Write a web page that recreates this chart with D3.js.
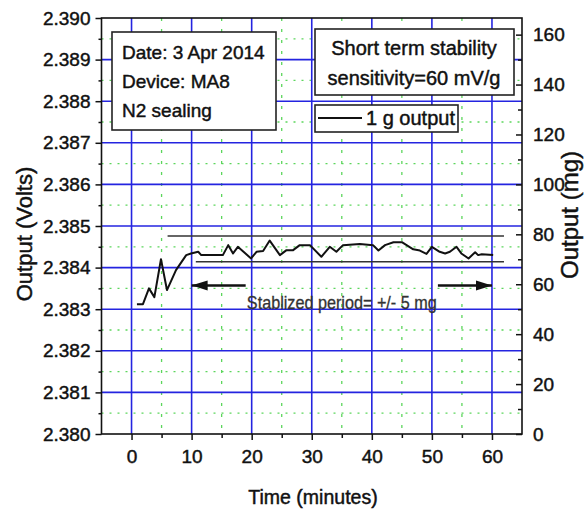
<!DOCTYPE html>
<html>
<head>
<meta charset="utf-8">
<script src="https://cdn.jsdelivr.net/npm/d3@7"></script>
<style>
  html, body { margin: 0; padding: 0; background: #fff; }
  svg { display: block; font-family: "Liberation Sans", Arial, sans-serif; }
  svg text { stroke: #111; stroke-width: 0.45px; }
</style>
</head>
<body>
<svg id="chart" width="587" height="512"></svg>
<script>
// Time (minutes) and sensor output (volts) for the 1 g stability run
const timeMin = [0.9, 1.9, 2.9, 3.8, 4.9, 5.9, 7.4, 9.1, 9.9, 11.1, 11.6, 15.2, 16.1, 16.9, 17.7,
  19.9, 20.8, 21.9, 23.0, 24.7, 25.8, 26.9, 28.0, 29.7, 31.6, 33.0, 34.1, 35.2, 38.0, 40.2,
  41.1, 42.2, 43.6, 45.0, 46.9, 48.0, 49.1, 50.0, 51.3, 52.2, 53.0, 54.1, 54.9, 56.1, 57.2,
  57.7, 58.3, 60.2];
const outputVolts = [2.38312, 2.38312, 2.38350, 2.38329, 2.38420, 2.38346, 2.38394, 2.38430,
  2.38434, 2.38438, 2.38430, 2.38430, 2.38454, 2.38434, 2.38450, 2.38422, 2.38438, 2.38440,
  2.38465, 2.38430, 2.38442, 2.38442, 2.38454, 2.38454, 2.38426, 2.38450, 2.38438, 2.38454,
  2.38457, 2.38454, 2.38441, 2.38454, 2.38461, 2.38461, 2.38444, 2.38441, 2.38433, 2.38450,
  2.38438, 2.38434, 2.38438, 2.38450, 2.38434, 2.38422, 2.38437, 2.38430, 2.38432, 2.38430];

// Stabilized band (+/- 5 mg) and its time extent
const bandUpper = { volts: 2.38476, from: 6, to: 62 };
const bandLower = { volts: 2.38414, from: 10.7, to: 62 };

// Axis ticks
const xTicks = [0, 10, 20, 30, 40, 50, 60];
const xMinorTicks = [5, 15, 25, 35, 45, 55];
const yTicks = [2.380, 2.381, 2.382, 2.383, 2.384, 2.385, 2.386, 2.387, 2.388, 2.389, 2.390];
const yMinorTicks = [2.3805, 2.3815, 2.3825, 2.3835, 2.3845, 2.3855, 2.3865, 2.3875, 2.3885, 2.3895];
const mgTicks = [0, 20, 40, 60, 80, 100, 120, 140, 160];
const mgMinorTicks = [10, 30, 50, 70, 90, 110, 130, 150];

// Annotation texts
const infoLines = ["Date: 3 Apr 2014", "Device: MA8", "N2 sealing"];
const titleLines = ["Short term stability", "sensitivity=60 mV/g"];
const legendLabel = "1 g output";
const bandLabel = "Stablized period= +/- 5 mg";

const sensitivity = 0.060; // V per g
const svg = d3.select("#chart");
const plot = { left: 101.5, right: 522, top: 18, bottom: 434 };

const x = d3.scaleLinear().domain([-5, 65]).range([plot.left, plot.right]);
const y = d3.scaleLinear().domain([2.380, 2.390]).range([plot.bottom, plot.top]);
const mgMax = (2.390 - 2.380) / sensitivity * 1000;
const yMg = d3.scaleLinear().domain([0, mgMax]).range([plot.bottom, plot.top]);

// Minor grid (green dotted)
const grid = svg.append("g");
grid.selectAll(".hmin").data(yMinorTicks).join("line")
  .attr("x1", plot.left).attr("x2", plot.right)
  .attr("y1", d => y(d)).attr("y2", d => y(d))
  .attr("stroke", "#5cd65c").attr("stroke-width", 1.3).attr("stroke-dasharray", "2,6");
grid.selectAll(".vmin").data(xMinorTicks).join("line")
  .attr("x1", d => x(d)).attr("x2", d => x(d))
  .attr("y1", plot.top).attr("y2", plot.bottom)
  .attr("stroke", "#5cd65c").attr("stroke-width", 1.3).attr("stroke-dasharray", "3,8");

// Major grid (blue)
grid.selectAll(".hmaj").data(yTicks.slice(1, -1)).join("line")
  .attr("x1", plot.left).attr("x2", plot.right)
  .attr("y1", d => y(d)).attr("y2", d => y(d))
  .attr("stroke", "#2424e0").attr("stroke-width", 1.6);
grid.selectAll(".vmaj").data(xTicks).join("line")
  .attr("x1", d => x(d)).attr("x2", d => x(d))
  .attr("y1", plot.top).attr("y2", plot.bottom)
  .attr("stroke", "#2424e0").attr("stroke-width", 1.6);

// Frame
svg.append("rect")
  .attr("x", plot.left).attr("y", plot.top)
  .attr("width", plot.right - plot.left).attr("height", plot.bottom - plot.top)
  .attr("fill", "none").attr("stroke", "#111").attr("stroke-width", 1.6);

// Axes
const axisStyle = g => {
  g.select(".domain").remove();
  g.selectAll("line").attr("stroke", "#111").attr("stroke-width", 1.5);
  g.selectAll("text").attr("font-family", "Liberation Sans, Arial, sans-serif")
    .attr("font-size", 19).attr("fill", "#111");
};
svg.append("g").attr("transform", `translate(${plot.left},0)`)
  .call(d3.axisLeft(y).tickValues(yTicks).tickFormat(d3.format(".3f")).tickSize(6).tickPadding(5))
  .call(axisStyle);
svg.append("g").attr("transform", `translate(${plot.left},0)`)
  .call(d3.axisLeft(y).tickValues(yMinorTicks).tickFormat("").tickSize(3))
  .call(axisStyle);
svg.append("g").attr("transform", `translate(0,${plot.bottom})`)
  .call(d3.axisBottom(x).tickValues(xTicks).tickFormat(d3.format("d")).tickSize(6).tickPadding(10))
  .call(axisStyle);
svg.append("g").attr("transform", `translate(0,${plot.bottom})`)
  .call(d3.axisBottom(x).tickValues(xMinorTicks).tickFormat("").tickSize(4))
  .call(axisStyle);
svg.append("g").attr("transform", `translate(${plot.right},0)`)
  .call(d3.axisRight(yMg).tickValues(mgTicks).tickFormat(d3.format("d")).tickSize(-6).tickPadding(11))
  .call(axisStyle);
svg.append("g").attr("transform", `translate(${plot.right},0)`)
  .call(d3.axisRight(yMg).tickValues(mgMinorTicks).tickFormat("").tickSize(-4))
  .call(axisStyle);

// Axis titles
svg.append("text").attr("transform", "translate(32,234) rotate(-90)")
  .attr("text-anchor", "middle").attr("font-size", 22).attr("fill", "#111")
  .text("Output (Volts)");
svg.append("text").attr("transform", "translate(578,215) rotate(-90)")
  .attr("text-anchor", "middle").attr("font-size", 24).attr("fill", "#111")
  .text("Output (mg)");
svg.append("text").attr("x", 313).attr("y", 504)
  .attr("text-anchor", "middle").attr("font-size", 19.5).attr("fill", "#111")
  .text("Time (minutes)");

// Stabilized band limits
const bandG = svg.append("g").attr("stroke", "#333").attr("stroke-width", 1.5);
[bandUpper, bandLower].forEach(b => {
  bandG.append("line")
    .attr("x1", x(b.from)).attr("x2", x(b.to))
    .attr("y1", y(b.volts)).attr("y2", y(b.volts));
});

// Output trace
const points = timeMin.map((t, i) => [t, outputVolts[i]]);
svg.append("path").datum(points)
  .attr("fill", "none").attr("stroke", "#111").attr("stroke-width", 2)
  .attr("stroke-linejoin", "round")
  .attr("d", d3.line().x(d => x(d[0])).y(d => y(d[1])));

// Arrows marking the stabilized period
const defs = svg.append("defs");
defs.append("marker").attr("id", "head")
  .attr("markerUnits", "userSpaceOnUse")
  .attr("viewBox", "0 -6 16 12").attr("refX", 16).attr("refY", 0)
  .attr("markerWidth", 16).attr("markerHeight", 12).attr("orient", "auto")
  .append("path").attr("d", "M0,-5L16,0L0,5Z").attr("fill", "#111");
const arrowY = 2.38357;
[[19, 10], [51, 60]].forEach(([from, to]) => {
  svg.append("line")
    .attr("x1", x(from)).attr("x2", x(to))
    .attr("y1", y(arrowY)).attr("y2", y(arrowY))
    .attr("stroke", "#111").attr("stroke-width", 2.5)
    .attr("marker-end", "url(#head)");
});
svg.append("text")
  .attr("transform", `translate(${x(19.2)},${y(2.38300)}) scale(0.9,1)`)
  .attr("font-size", 18).attr("fill", "#333").style("stroke", "#333").style("stroke-width", "0.3px")
  .text(bandLabel);

// Info box
svg.append("rect").attr("x", 112).attr("y", 32).attr("width", 164).attr("height", 98)
  .attr("fill", "#fff").attr("stroke", "#222").attr("stroke-width", 1.6);
svg.append("g").selectAll("text").data(infoLines).join("text")
  .attr("x", 122).attr("y", (d, i) => 59 + i * 29)
  .attr("font-size", 19).attr("fill", "#111")
  .text(d => d);

// Title box
svg.append("rect").attr("x", 315).attr("y", 29).attr("width", 199).attr("height", 66)
  .attr("fill", "#fff").attr("stroke", "#222").attr("stroke-width", 1.6);
svg.append("g").selectAll("text").data(titleLines).join("text")
  .attr("x", 414).attr("y", (d, i) => 55 + i * 30)
  .attr("text-anchor", "middle")
  .attr("font-size", 20).attr("fill", "#111")
  .text(d => d);

// Legend
svg.append("rect").attr("x", 315).attr("y", 105).attr("width", 143).attr("height", 27)
  .attr("fill", "#fff").attr("stroke", "#222").attr("stroke-width", 1.6);
svg.append("line").attr("x1", 318).attr("x2", 362).attr("y1", 118).attr("y2", 118)
  .attr("stroke", "#111").attr("stroke-width", 2);
svg.append("text").attr("x", 366).attr("y", 125)
  .attr("font-size", 20).attr("fill", "#111")
  .text(legendLabel);
</script>
</body>
</html>
